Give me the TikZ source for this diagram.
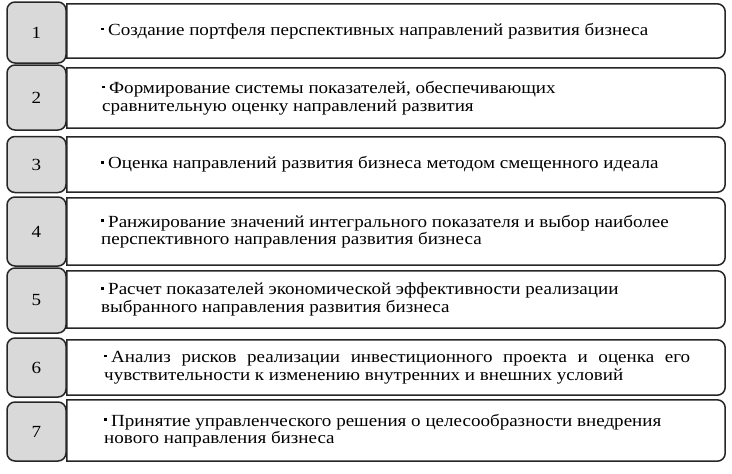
\documentclass[tikz,border=0pt]{standalone}
\usepackage{fontspec}
\setmainfont{Liberation Serif}[FakeStretch=1.12]
\definecolor{linec}{HTML}{262626}
\definecolor{numfill}{HTML}{D9D9D9}
\newcommand\mybul{\makebox[7pt][l]{\raisebox{0.3em}{\rule{2.6pt}{2.6pt}}}}
\begin{document}
\begin{tikzpicture}[x=1pt,y=-1pt,
  numbox/.style={draw=linec, line width=1.5pt, fill=numfill, rounded corners=8pt,
    inner sep=0pt, minimum width=59pt, font=\fontsize{17}{18}\selectfont},
  fieldbox/.style={draw=none, inner sep=0pt, minimum width=658pt},
  fieldline/.style={draw=linec, line width=1.5pt, fill=white},
  itemtext/.style={anchor=west, inner sep=0pt, text width=586pt, align=justify,
    font=\fontsize{17}{17.5}\selectfont}]
\useasboundingbox (0,0) rectangle (732,474);
\newcommand\fieldframe[1]{%
  \draw[fieldline] (#1.south west) -- (#1.north west) -- ([xshift=-8pt]#1.north east)
    arc[start angle=90,end angle=0,radius=8pt] -- ([yshift=8pt]#1.south east)
    arc[start angle=0,end angle=-90,radius=8pt] -- cycle;}
% row 1
\node[fieldbox, minimum height=54pt] (w1) at (396,31) {};
\fieldframe{w1}
\node[numbox, minimum height=61pt] (n1) at (36.5,32.5) {1};
\node[itemtext] (t1) at (101,31) {\hangindent=7pt\hangafter=1\mybul Создание портфеля перспективных направлений развития бизнеса};
% row 2
\node[fieldbox, minimum height=60pt] (w2) at (396,98) {};
\fieldframe{w2}
\node[numbox, minimum height=65pt] (n2) at (36.5,97.5) {2};
\node[itemtext] (t2) at (102,98) {\hangindent=7pt\hangafter=1\mybul Формирование системы показателей, обеспечивающих\\ сравнительную оценку направлений развития};
% row 3
\node[fieldbox, minimum height=55pt] (w3) at (396,164.5) {};
\fieldframe{w3}
\node[numbox, minimum height=56pt] (n3) at (36.5,164.5) {3};
\node[itemtext] (t3) at (101,164.5) {\hangindent=7pt\hangafter=1\mybul Оценка направлений развития бизнеса методом смещенного идеала};
% row 4
\node[fieldbox, minimum height=67pt] (w4) at (396,231.5) {};
\fieldframe{w4}
\node[numbox, minimum height=69pt] (n4) at (36.5,231.5) {4};
\node[itemtext] (t4) at (101,231.5) {\hangindent=7pt\hangafter=1\mybul Ранжирование значений интегрального показателя и выбор наиболее\\ перспективного направления развития бизнеса};
% row 5
\node[fieldbox, minimum height=57pt] (w5) at (396,299.5) {};
\fieldframe{w5}
\node[numbox, minimum height=65pt] (n5) at (36.5,300.5) {5};
\node[itemtext] (t5) at (101,299.5) {\hangindent=7pt\hangafter=1\mybul Расчет показателей экономической эффективности реализации\\ выбранного направления развития бизнеса};
% row 6
\node[fieldbox, minimum height=55pt] (w6) at (396,367.5) {};
\fieldframe{w6}
\node[numbox, minimum height=59pt] (n6) at (36.5,367.5) {6};
\node[itemtext] (t6) at (104,367.5) {\hangindent=7pt\hangafter=1\mybul Анализ рисков реализации инвестиционного проекта и оценка его\linebreak чувствительности к изменению внутренних и внешних условий};
% row 7
\node[fieldbox, minimum height=61pt] (w7) at (396,430.5) {};
\fieldframe{w7}
\node[numbox, minimum height=59pt] (n7) at (36.5,431.5) {7};
\node[itemtext] (t7) at (104,430.5) {\hangindent=7pt\hangafter=1\mybul Принятие управленческого решения о целесообразности внедрения\\ нового направления бизнеса};
\end{tikzpicture}
\end{document}
